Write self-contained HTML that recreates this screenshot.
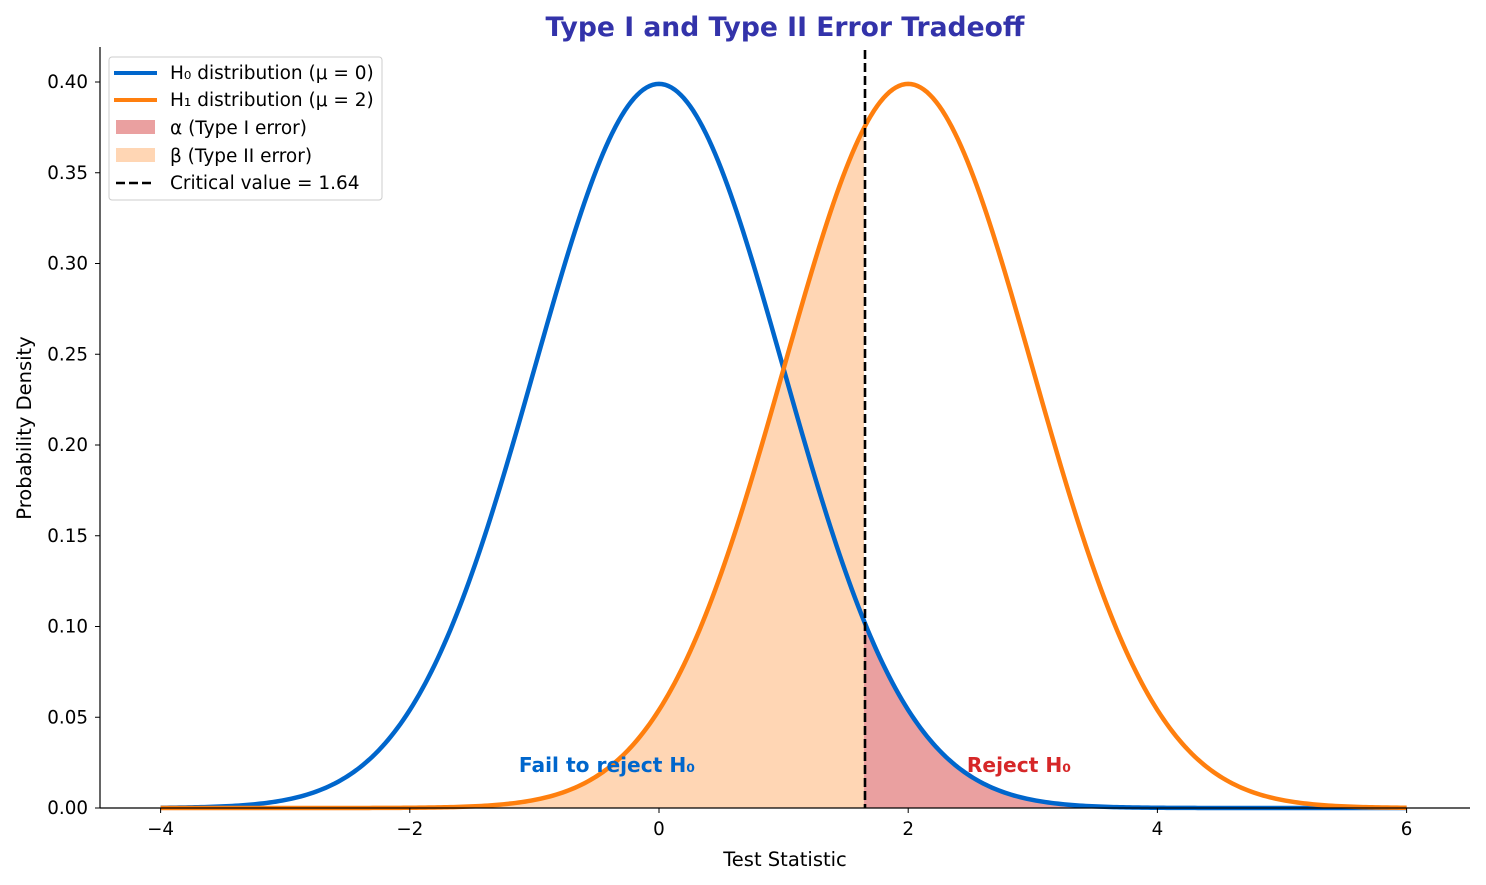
<!DOCTYPE html>
<html><head><meta charset="utf-8"><style>
body{margin:0;background:#fff;}
svg{display:block;font-family:"DejaVu Sans","Liberation Sans",sans-serif;}
</style></head><body>
<svg id="s" width="1486" height="885" xmlns="http://www.w3.org/2000/svg">
<rect width="1486" height="885" fill="#fff"/>
<g id="fills"></g>
<g id="lines"></g>
<line x1="865" y1="50" x2="865" y2="808" stroke="#000" stroke-width="2.6" stroke-dasharray="9,4"/>
<line x1="100" y1="47" x2="100" y2="808" stroke="#000" stroke-width="1.2"/>
<line x1="100" y1="808" x2="1470" y2="808" stroke="#000" stroke-width="1.2"/>
<g id="ticks" font-size="18.3" fill="#000"></g>
<text x="785" y="866" font-size="19.5" text-anchor="middle">Test Statistic</text>
<text transform="translate(31,428) rotate(-90)" font-size="19.5" text-anchor="middle">Probability Density</text>
<text x="785" y="36" font-size="26.6" font-weight="bold" fill="#3333aa" text-anchor="middle">Type I and Type II Error Tradeoff</text>
<text x="607" y="772" font-size="20.2" font-weight="bold" fill="#0066cc" text-anchor="middle">Fail to reject H₀</text>
<text x="1019" y="772" font-size="20.2" font-weight="bold" fill="#d62728" text-anchor="middle">Reject H₀</text>
<g font-size="18.5">
<rect x="109" y="57" width="273" height="143" rx="3" fill="#fff" fill-opacity="0.85" stroke="#ccc"/>
<line x1="114" y1="73" x2="157" y2="73" stroke="#0066cc" stroke-width="4"/>
<text x="170" y="79">H₀ distribution (μ = 0)</text>
<line x1="114" y1="100" x2="157" y2="100" stroke="#ff7f0e" stroke-width="4"/>
<text x="170" y="106">H₁ distribution (μ = 2)</text>
<rect x="116" y="120" width="39" height="14" fill="#eaa0a0"/>
<text x="170" y="134">α (Type I error)</text>
<rect x="116" y="148" width="39" height="14" fill="#ffd6b4"/>
<text x="170" y="162">β (Type II error)</text>
<line x1="116" y1="183" x2="155" y2="183" stroke="#000" stroke-width="2.6" stroke-dasharray="9,4"/>
<text x="170" y="189">Critical value = 1.64</text>
</g>
</svg>
<script>
const X=v=>659+v*124.6, Y=v=>808-v*1815;
const pdf=(x,m)=>Math.exp(-0.5*(x-m)*(x-m))/Math.sqrt(2*Math.PI);
const ns="http://www.w3.org/2000/svg";
function el(p,t,a){const e=document.createElementNS(ns,t);for(const k in a)e.setAttribute(k,a[k]);document.getElementById(p).appendChild(e);return e;}
function path(m,a,b){let d="";for(let i=0;i<=400;i++){const x=a+(b-a)*i/400;d+=(i?"L":"M")+X(x).toFixed(2)+","+Y(pdf(x,m)).toFixed(2);}return d;}
const c=1.645;
el("fills","path",{d:path(2,-4,c)+"L"+X(c)+","+Y(0)+"L"+X(-4)+","+Y(0)+"Z",fill:"#ffd6b4"});
el("fills","path",{d:path(0,c,6)+"L"+X(6)+","+Y(0)+"L"+X(c)+","+Y(0)+"Z",fill:"#eaa0a0"});
el("lines","path",{d:path(0,-4,6),fill:"none",stroke:"#0066cc","stroke-width":4.5});
el("lines","path",{d:path(2,-4,6),fill:"none",stroke:"#ff7f0e","stroke-width":4.5});
for(const v of [-4,-2,0,2,4,6]){el("ticks","line",{x1:X(v),x2:X(v),y1:808,y2:813,stroke:"#000"});
 const t=el("ticks","text",{x:X(v),y:835,"text-anchor":"middle"});t.textContent=(v<0?"−"+(-v):v);}
for(let i=0;i<=8;i++){const v=i*0.05;el("ticks","line",{x1:95,x2:100,y1:Y(v),y2:Y(v),stroke:"#000"});
 const t=el("ticks","text",{x:88,y:Y(v)+6,"text-anchor":"end"});t.textContent=v.toFixed(2);}
</script>
</body></html>
